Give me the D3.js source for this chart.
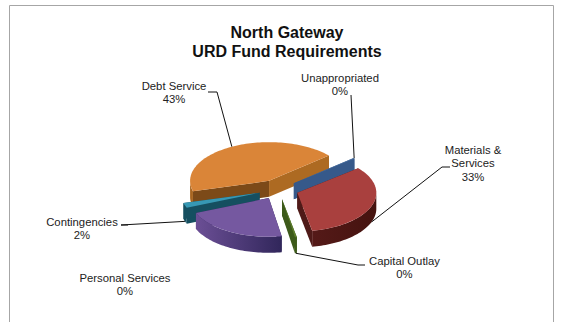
<!DOCTYPE html>
<html>
<head>
<meta charset="utf-8">
<style>
  html, body { margin: 0; padding: 0; background: #fff; }
  svg { display: block; }
  text { font-family: "Liberation Sans", Arial, sans-serif; }
</style>
<script src="https://cdn.jsdelivr.net/npm/d3@7"></script>
</head>
<body>
<script>
// Fund requirements, percent of total, clockwise from Debt Service
const categories = ["Debt Service", "Unappropriated", "Materials & Services", "Capital Outlay", "Transfers", "Personal Services", "Contingencies"];
const shares = [43, 0.3, 33, 0.4, 21.3, 0, 2];
const titleLines = ["North Gateway", "URD Fund Requirements"];

// Wrapped label text; the Transfers wedge carries no label
const labelLines = [["Debt Service"], ["Unappropriated"], ["Materials &", "Services"], ["Capital Outlay"], null, ["Personal Services"], ["Contingencies"]];

// Palette per wedge: top face, outer wall (near, far end), cut wall
const topColors  = ["#da8538", "#4a70a2", "#a9403e", "#5c7c2c", "#7558a0", "#7558a0", "#3798b4"];
const wallNear   = ["#a8651f", "#36598a", "#5a1c1b", "#3d5a1a", "#6a4e94", "#6a4e94", "#154f60"];
const wallFar    = ["#a8651f", "#36598a", "#45130f", "#3d5a1a", "#2f2559", "#2f2559", "#154f60"];
const cutColors  = ["#7c4a18", "#36598a", "#4f1a18", "#3d5a1a", "#2f2559", "#2f2559", "#154f60"];
const debtRightCut = "#ad6a22";

// Label anchors: centre x, first baseline, and the elbow of the leader
const labelLayout = [
  { x: 174,   y: 90,  elbow: [[208, 92], [217, 92]] },
  { x: 340,   y: 82,  elbow: [[351, 95]] },
  { x: 473,   y: 154, elbow: [[450, 167], [442, 167]] },
  { x: 404.5, y: 265, elbow: [[365, 265], [358, 265]] },
  null,
  { x: 125,   y: 282, elbow: null },
  { x: 82,    y: 226, elbow: [[128, 225], [121, 225]] }
];

const width = 564, height = 322;
const cx = 278.5, cy = 189.5;   // pie centre on the page
const radius = 79;              // horizontal radius of every wedge
const tilt = 0.49;              // vertical squash of the pie plane
const depth = 16;               // wall height
const explode = 20;             // how far each wedge is pulled out
const startDeg = 254.5;

const svg = d3.select("body").append("svg").attr("width", width).attr("height", height);

// Chart frame, open at the bottom edge
svg.append("path")
  .attr("d", d3.line()([[9.5, height], [9.5, 5.5], [553.5, 5.5], [553.5, height]]))
  .attr("fill", "none").attr("stroke", "#a6a6a6").attr("stroke-width", 1);

// Title
svg.append("text").attr("text-anchor", "middle").attr("font-weight", "bold")
  .attr("font-size", 16).attr("fill", "#111")
  .selectAll("tspan").data(titleLines).join("tspan")
  .attr("x", 287).attr("y", (d, i) => 38 + i * 19).text(d => d);

const pie = d3.pie().sort(null)
  .startAngle(startDeg * Math.PI / 180)
  .endAngle(startDeg * Math.PI / 180 + 2 * Math.PI);

const arcs = pie(shares).map((a, i) => {
  const mid = (a.startAngle + a.endAngle) / 2;
  return {
    ...a, i, mid,
    ox: cx + explode * Math.sin(mid),
    oy: cy - explode * Math.cos(mid) * tilt
  };
});

const px = (s, ang, r = radius) => s.ox + r * Math.sin(ang);
const py = (s, ang, r = radius) => s.oy - r * Math.cos(ang) * tilt;
const line = d3.line();

function arcSamples(a0, a1) {
  const n = Math.max(2, Math.ceil(Math.abs(a1 - a0) / 0.03));
  return d3.range(n + 1).map(k => a0 + (a1 - a0) * k / n);
}

// Wall gradients run left to right across each wedge
const defs = svg.append("defs");
arcs.forEach(s => {
  const g = defs.append("linearGradient").attr("id", "wall" + s.i)
    .attr("gradientUnits", "userSpaceOnUse")
    .attr("x1", s.ox - radius).attr("x2", s.ox + radius).attr("y1", 0).attr("y2", 0);
  const leftIsNear = s.i === 4 || s.i === 5;
  g.append("stop").attr("offset", leftIsNear ? 0.05 : 0.45).attr("stop-color", wallNear[s.i]);
  g.append("stop").attr("offset", leftIsNear ? 0.6 : 1).attr("stop-color", wallFar[s.i]);
});

// Paint far wedges first so nearer ones overlap them
const drawOrder = arcs.filter(s => s.value > 0).sort((a, b) => Math.cos(b.mid) - Math.cos(a.mid));

const wedges = svg.selectAll("g.wedge").data(drawOrder).join("g").attr("class", "wedge");

wedges.each(function (s) {
  const g = d3.select(this);
  const cut = (ang, fill) => g.append("path")
    .attr("d", line([[s.ox, s.oy], [px(s, ang), py(s, ang)], [px(s, ang), py(s, ang) + depth], [s.ox, s.oy + depth]]) + "Z")
    .attr("fill", fill);

  cut(s.startAngle, s.i === 0 ? cutColors[0] : cutColors[s.i]);
  cut(s.endAngle, s.i === 0 ? debtRightCut : cutColors[s.i]);

  // Outer wall: only the stretch of the rim facing the viewer
  const tau = 2 * Math.PI;
  for (const shift of [0, tau, -tau]) {
    const lo = Math.max(s.startAngle + shift, Math.PI / 2);
    const hi = Math.min(s.endAngle + shift, 3 * Math.PI / 2);
    if (hi <= lo) continue;
    const rim = arcSamples(lo, hi);
    const upper = rim.map(a => [px(s, a), py(s, a)]);
    const lower = rim.slice().reverse().map(a => [px(s, a), py(s, a) + depth]);
    g.append("path").attr("d", line(upper.concat(lower)) + "Z").attr("fill", `url(#wall${s.i})`);
  }

  // Top face
  const rim = arcSamples(s.startAngle, s.endAngle).map(a => [px(s, a), py(s, a)]);
  g.append("path").attr("d", line([[s.ox, s.oy], ...rim]) + "Z").attr("fill", topColors[s.i]);
});

// Leader lines run from the label elbow to the rim at the wedge's middle angle
arcs.forEach(s => {
  const lay = labelLayout[s.i];
  if (!lay || !lay.elbow) return;
  const front = Math.cos(s.mid) < 0;
  const tip = [px(s, s.mid), py(s, s.mid) + (front ? depth : 0)];
  svg.append("path").attr("d", line([...lay.elbow, tip]))
    .attr("fill", "none").attr("stroke", "#111").attr("stroke-width", 1);
});

// Category labels with their rounded share
const pct = d3.format(".0%");
arcs.forEach(s => {
  const lay = labelLayout[s.i];
  if (!lay) return;
  const lines = [...labelLines[s.i], pct(s.value / 100)];
  svg.append("text").attr("text-anchor", "middle").attr("font-size", 11.3).attr("fill", "#222")
    .selectAll("tspan").data(lines).join("tspan")
    .attr("x", lay.x).attr("y", (d, i) => lay.y + i * 13.3).text(d => d);
});
</script>
</body>
</html>
